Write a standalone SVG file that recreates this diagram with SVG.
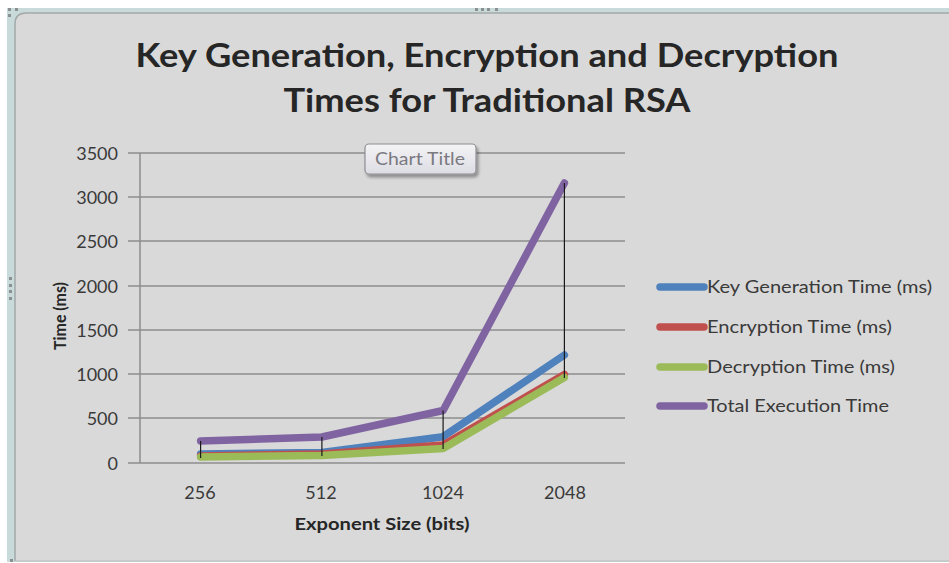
<svg xmlns="http://www.w3.org/2000/svg" width="949" height="563" viewBox="0 0 949 563">
<defs>
<style>
.tick{font-family:Lato,"Open Sans","Liberation Sans",sans-serif;font-size:18px;fill:#3a3a3a}
.legend{font-family:Lato,"Open Sans","Liberation Sans",sans-serif;font-size:17px;fill:#3a3a3a}
.title{font-family:Lato,"Open Sans","Liberation Sans",sans-serif;font-weight:bold;font-size:33px;fill:#262626}
.axtitle{font-family:Lato,"Open Sans","Liberation Sans",sans-serif;font-weight:bold;font-size:17px;fill:#262626}
.grid{stroke:#8c8c8c;stroke-width:1.5;fill:none}
.series{fill:none;stroke-width:7.5;stroke-linecap:round;stroke-linejoin:round}
.hl{stroke:#1a1a1a;stroke-width:1.2}
.handle{fill:#8a8f8f}
</style>
<linearGradient id="btn" x1="0" y1="0" x2="0" y2="1">
<stop offset="0" stop-color="#f4f4f6"/>
<stop offset="1" stop-color="#dcdce4"/>
</linearGradient>
<filter id="shadow" x="-20%" y="-30%" width="150%" height="180%">
<feGaussianBlur in="SourceAlpha" stdDeviation="1.5"/>
<feOffset dx="2" dy="3"/>
<feComponentTransfer><feFuncA type="linear" slope="0.35"/></feComponentTransfer>
<feMerge><feMergeNode/><feMergeNode in="SourceGraphic"/></feMerge>
</filter>
</defs>

<!-- frame -->
<g id="frame">
<rect x="0" y="0" width="949" height="563" fill="#ffffff"/>
<rect x="7" y="8" width="942" height="554" fill="#c9dada"/>
<path d="M15,561 L15,24 Q15,13 26,13 L949,13 L949,561 Z" fill="#d9d9d9"/>
<path d="M15,561 L15,24 Q15,13 26,13 L949,13" fill="none" stroke="#a3a8a8" stroke-width="1.5"/>
<line x1="15" y1="561" x2="949" y2="561" stroke="#b8bcbc" stroke-width="1"/>
<rect class="handle" x="8" y="8" width="3" height="3"/>
<rect class="handle" x="15" y="8" width="3" height="3"/>
<rect class="handle" x="8" y="14" width="3" height="3"/>
<rect class="handle" x="475" y="8" width="3" height="3"/>
<rect class="handle" x="481" y="8" width="3" height="3"/>
<rect class="handle" x="487" y="8" width="3" height="3"/>
<rect class="handle" x="495" y="8" width="3" height="3"/>
<rect class="handle" x="9" y="277" width="3" height="3"/>
<rect class="handle" x="9" y="284" width="3" height="3"/>
<rect class="handle" x="9" y="290" width="3" height="3"/>
<rect class="handle" x="9" y="297" width="3" height="3"/>
<rect class="handle" x="10" y="559" width="3" height="3"/>
</g>

<!-- title -->
<g id="title">
<text class="title" x="487" y="67" text-anchor="middle" textLength="703" lengthAdjust="spacingAndGlyphs">Key Generation, Encryption and Decryption</text>
<text class="title" x="487" y="112" text-anchor="middle" textLength="407" lengthAdjust="spacingAndGlyphs">Times for Traditional RSA</text>
</g>

<!-- gridlines and axes -->
<g id="axes">
<line class="grid" x1="128" y1="153" x2="625" y2="153"/>
<line class="grid" x1="128" y1="197" x2="625" y2="197"/>
<line class="grid" x1="128" y1="241" x2="625" y2="241"/>
<line class="grid" x1="128" y1="286" x2="625" y2="286"/>
<line class="grid" x1="128" y1="330" x2="625" y2="330"/>
<line class="grid" x1="128" y1="374" x2="625" y2="374"/>
<line class="grid" x1="128" y1="418" x2="625" y2="418"/>
<line class="grid" x1="128" y1="463" x2="625" y2="463"/>
<line class="grid" x1="140" y1="153" x2="140" y2="463"/>
</g>

<g id="y-labels">
<text class="tick" x="118" y="160" text-anchor="end">3500</text>
<text class="tick" x="118" y="204" text-anchor="end">3000</text>
<text class="tick" x="118" y="248" text-anchor="end">2500</text>
<text class="tick" x="118" y="293" text-anchor="end">2000</text>
<text class="tick" x="118" y="337" text-anchor="end">1500</text>
<text class="tick" x="118" y="381" text-anchor="end">1000</text>
<text class="tick" x="118" y="425" text-anchor="end">500</text>
<text class="tick" x="118" y="470" text-anchor="end">0</text>
</g>

<g id="x-labels">
<text class="tick" x="200" y="499" text-anchor="middle">256</text>
<text class="tick" x="321" y="499" text-anchor="middle">512</text>
<text class="tick" x="443" y="499" text-anchor="middle">1024</text>
<text class="tick" x="565" y="499" text-anchor="middle">2048</text>
</g>

<g id="axis-titles">
<text class="axtitle" x="382" y="530" text-anchor="middle" textLength="175" lengthAdjust="spacingAndGlyphs">Exponent Size (bits)</text>
<text class="axtitle" transform="translate(66,316) rotate(-90)" x="0" y="0" text-anchor="middle" textLength="68" lengthAdjust="spacingAndGlyphs">Time (ms)</text>
</g>

<!-- series -->
<g id="connectors">
<polyline id="key-generation" class="series" stroke="#4f81bd" points="200.6,454 321.9,452.5 443.1,436.7 564.4,355"/>
<polyline id="encryption" class="series" stroke="#c0504d" points="200.6,456 321.9,454 443.1,445 564.4,374.5"/>
<polyline id="decryption" class="series" stroke="#9bbb59" points="200.6,457 321.9,455.5 443.1,448.5 564.4,377.5"/>
<polyline id="total" class="series" stroke="#8064a2" points="200.6,441 321.9,437 443.1,410.5 564.4,183"/>
<line class="hl" x1="200.6" y1="441" x2="200.6" y2="458"/>
<line class="hl" x1="321.9" y1="437" x2="321.9" y2="456"/>
<line class="hl" x1="443.1" y1="410.5" x2="443.1" y2="449"/>
<line class="hl" x1="564.4" y1="183" x2="564.4" y2="378"/>
</g>

<!-- chart title tooltip -->
<g id="chart-title-box">
<rect x="365" y="144" width="111" height="30" rx="4" fill="url(#btn)" stroke="#8e8e94" stroke-width="1.2" filter="url(#shadow)"/>
<text x="375" y="165" font-family="Lato,'Open Sans','Liberation Sans',sans-serif" font-size="17" fill="#7a7a80" textLength="90" lengthAdjust="spacingAndGlyphs">Chart Title</text>
</g>

<!-- legend -->
<g id="legend">
<g id="legend-key">
<line class="series" stroke="#4f81bd" stroke-width="6.5" x1="660" y1="287" x2="704" y2="287"/>
<text class="legend" x="707" y="293" textLength="225" lengthAdjust="spacingAndGlyphs">Key Generation Time (ms)</text>
</g>
<g id="legend-enc">
<line class="series" stroke="#c0504d" stroke-width="6.5" x1="660" y1="327" x2="704" y2="327"/>
<text class="legend" x="707" y="333" textLength="185" lengthAdjust="spacingAndGlyphs">Encryption Time (ms)</text>
</g>
<g id="legend-dec">
<line class="series" stroke="#9bbb59" stroke-width="6.5" x1="660" y1="367" x2="704" y2="367"/>
<text class="legend" x="707" y="373" textLength="188" lengthAdjust="spacingAndGlyphs">Decryption Time (ms)</text>
</g>
<g id="legend-total">
<line class="series" stroke="#8064a2" stroke-width="6.5" x1="660" y1="406" x2="704" y2="406"/>
<text class="legend" x="707" y="412" textLength="182" lengthAdjust="spacingAndGlyphs">Total Execution Time</text>
</g>
</g>
</svg>
